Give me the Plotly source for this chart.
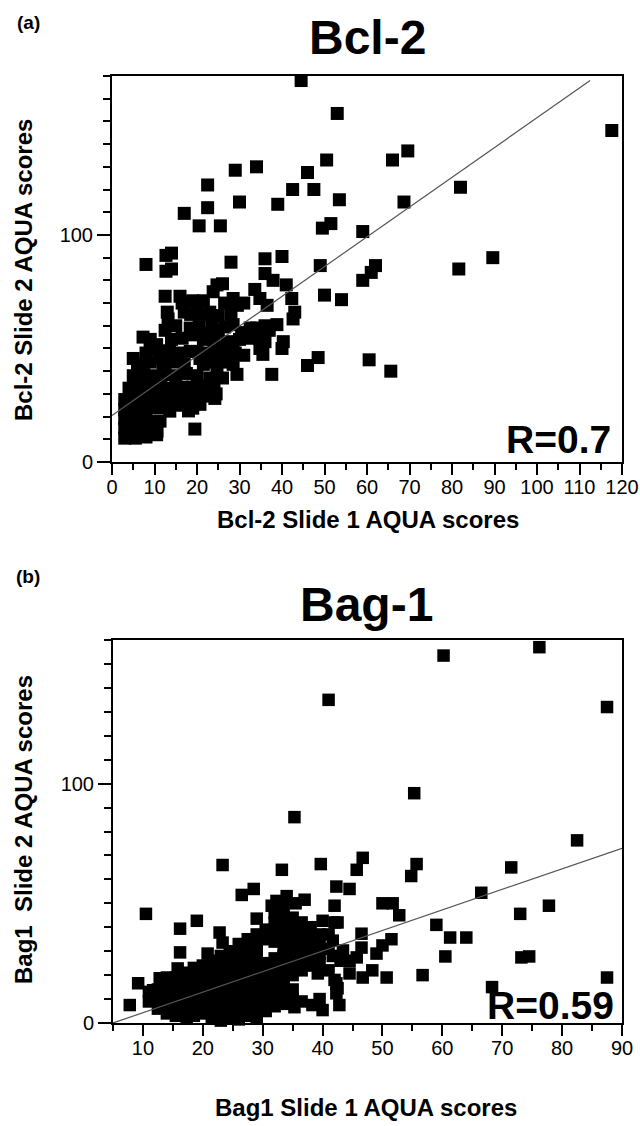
import plotly.graph_objects as go

# ---------------- Data ----------------
# Panel (a) Bcl-2 : (slide 1 score, slide 2 score)
bcl2_upper = [(44.5,168),(53,153.5),(50.5,133),(29,128.5),(34,130),(22.5,122),(46,127.5),
              (42.5,120),(47.5,120),(17,109.5),(22.5,112),(30,114.5),(39,113.5),(20.5,104),
              (25.5,104),(53.5,115.5),(49.5,103),(51.5,105),(59,101.5),(117.6,146),(66,133),
              (69.6,137),(82,121),(68.7,114.5)]
bcl2_right = [(59,80),(62,86.5),(61,83.5),(81.6,85),(89.6,90),(60.5,45),(65.6,40),(50,73.5),
              (54,71.5),(46,42.5),(48.5,46),(37.6,38.6),(19.5,14.5)]
bcl2_mid = [(8,87),(12.7,91),(14,92),(12.7,84),(14,85),(28,88),(36,89.5),(40,90.5),(49,86.5),
            (36,83),(37.9,80),(41,78),(33.6,76),(34.8,72),(36.5,69),(42.3,72),(43,66),(42.6,63),
            (12.5,73),(16,73),(24.7,78),(26,78.5),(23.8,75),(28.5,72),(20,70),(17,66),(23,66),
            (13,66),(13.2,63),(12.5,58),(18.4,59),(16.5,54.5),(7.3,55),(22.6,56.6),(25,58),
            (28.5,60.5),(32.5,59),(34,59),(34.8,54.5),(38.8,60.5),(40.3,53),(40,50),(35.5,47.4),
            (29.4,38.6),(24.7,40.8),(28.5,43),(26,50),(29,48),(20.7,45.6),(20,48.7),(18.4,48.7),
            (24.2,28),(22.4,32.5),(20,32.5),(20.7,25.4),(19,23.7),(16,25.4),(13.6,22.4),
            (11.3,18),(10.6,13.6),(5,45.6),(6,41),(7.3,35.5),(9,50),(10.5,51.7),(11.3,45.6),
            (24.7,45.6),(27,44),(28.5,50),(32.5,54.5),(34.8,50)]
bcl2_core = [(3,10.5),(5.5,10.5),(8,11),(10.5,12),(3,15),(6,15),(9,14.5),
             (3,19),(5.5,18.5),(8,19),(10.5,18),
             (3,23),(5.5,23.5),(8,23),(10.5,24),(13,24),(16,25),(18,22.5),
             (3,27.5),(5.5,28),(8,27.5),(10.5,28),(13,28),(15.5,28.5),(18,28),(20.5,28),(22.5,29),(24.5,30),
             (4,32.5),(6.5,33),(9,32.5),(11.5,33),(14,32.5),(16.5,33),(19,33),(21.5,33.5),(24,34),
             (5,38),(7.5,38.5),(10,38),(12.5,38.5),(15,38),(17.5,39),(20,38),(23,37),(26,37),
             (6.5,43),(9,44),(12,43.5),(14.5,44),(17,43),(21.5,43),(24,44),(26.5,45),
             (8,48),(11,48.5),(13.5,49),(16,48),(22.5,48),(24,50),(27.5,47),(31,47),
             (9,54),(14,54),(19,56),(21.5,54),(24,54),(27,53),(30,54),(36,53),(37,58),
             (15,60),(20.5,59.5),(23.5,61),(26.5,59.5),(30.5,57),(36,60),
             (16.5,70),(19,71),(21.5,71),(26.5,70),(29.5,69),(18.5,65),(21,65),(25,64.5),(28,65),(31,70)]
bcl2_fit_x = [0, 112.5]
bcl2_fit_y = [20.5, 168]

# Panel (b) Bag-1 : (slide 1 score, slide 2 score)
bag1_upper = [(41,135),(35.3,86),(60.2,153.5),(76.2,157),(87.5,132),(55.3,96),(82.5,76.3),
              (71.5,65),(66.5,54.4),(73,45.6),(77.8,49),(87.5,19),(68.3,15),(73.2,27.4),
              (74.5,27.8),(59,41),(61.3,35.7),(64,35.7),(60.5,27.8),(56.7,20)]
bag1_mid = [(46.7,69),(45.7,64),(55.7,66.4),(54.8,61.4),(42.3,57),(44.5,56),(42,49),(50,50),
            (51.7,50),(52.8,45),(42,42),(46.5,37.3),(51.5,35),(50,32.4),(49,29),(48.3,22),
            (50.7,19),(46.7,19),(44.5,20.7),(42.8,7.5),(42,18),(42.5,14.5),(46.5,31.5),
            (45.7,27.4),(44.5,26),(41.7,34.4),(41.7,28),(43,26),(43.4,30.3),(23.3,66),(33.2,64),
            (39.7,66.4),(10.5,45.6),(16.2,39.4),(19,42.7),(26.5,53.5),(28.5,56),(40,42.7),
            (42.5,42),(29,43.6),(32.3,51),(34,53),(37,51.5),(22.8,37.8),(23.3,33.6),(16.2,29.5),
            (9.2,16.6),(7.8,7.5),(35.3,6.6),(38.3,7.5),(40,5.4),(39.2,20.7),(42.3,16.6),
            (42.3,12.4),(17.3,2.5),(15.8,22.8),(12.8,18.7),(11.7,13.7),(20.8,29),(31.5,49),
            (35.5,50)]
bag1_core = [(11,9),(11,13),(12.5,6),(12.5,10),(12.5,14),
             (14,4),(14,8),(14,12),(14,16),(14,19),
             (15.5,3),(15.5,7),(15.5,11),(15.5,15),(15.5,19),
             (17,5),(17,9),(17,13),(17,17),(17,21),
             (18.5,3),(18.5,7),(18.5,11),(18.5,15),(18.5,19),(18.5,23),
             (20,4),(20,8),(20,12),(20,16),(20,20),(20,24),
             (21.5,2),(21.5,6),(21.5,10),(21.5,14),(21.5,18),(21.5,22),(21.5,26),
             (23,1),(23,5),(23,9),(23,13),(23,17),(23,21),(23,25),(23,28),
             (24.5,2),(24.5,6),(24.5,10),(24.5,14),(24.5,18),(24.5,22),(24.5,26),(24.5,30),
             (26,1.5),(26,5.5),(26,9.5),(26,13.5),(26,17.5),(26,21.5),(26,25.5),(26,29.5),(26,33),
             (27.5,3),(27.5,7),(27.5,11),(27.5,15),(27.5,19),(27.5,23),(27.5,27),(27.5,31),(27.5,35),
             (29,2),(29,6),(29,10),(29,14),(29,18),(29,22),(29,26),(29,30),(29,34),(29,37),
             (30.5,5),(30.5,9),(30.5,13),(30.5,17),(30.5,21),(30.5,25),(30.5,35),(30.5,39),
             (32,7),(32,11),(32,15),(32,19),(32,23),(32,27),(32,34),(32,38),(32,42),(32,46),
             (33.5,8),(33.5,12),(33.5,16),(33.5,20),(33.5,24),(33.5,28),(33.5,32),(33.5,36),
             (33.5,40),(33.5,44),(33.5,48),
             (35,10),(35,14),(35,20),(35,24),(35,28),(35,32),(35,36),(35,40),(35,44),
             (36.5,9),(36.5,22),(36.5,26),(36.5,30),(36.5,34),(36.5,38),(36.5,42),
             (38,24),(38,28),(38,32),(38,36),(38,40),
             (39.5,10),(39.5,25),(39.5,29),(39.5,33),(39.5,37),
             (41,22),(41,31),(41,37)]
bag1_fit_x = [5, 90]
bag1_fit_y = [0, 73]

# ---------------- Layout helpers ----------------
W, H = 640, 1126
def px(x):
    return x / W
def py(y):
    return 1 - y / H

FONT = "Liberation Sans, Arial, sans-serif"

def split(points):
    return [p[0] for p in points], [p[1] for p in points]

fig = go.Figure()

ax, ay = split(bcl2_upper + bcl2_right + bcl2_mid + bcl2_core)
fig.add_trace(go.Scatter(x=ax, y=ay, mode="markers", xaxis="x", yaxis="y",
                         marker=dict(symbol="square", size=13, color="black", line=dict(width=0)),
                         cliponaxis=False, hoverinfo="x+y"))
fig.add_trace(go.Scatter(x=bcl2_fit_x, y=bcl2_fit_y, mode="lines", xaxis="x", yaxis="y",
                         line=dict(color="#555555", width=1.2), cliponaxis=False))

bx, by = split(bag1_upper + bag1_mid + bag1_core)
fig.add_trace(go.Scatter(x=bx, y=by, mode="markers", xaxis="x2", yaxis="y2",
                         marker=dict(symbol="square", size=12.5, color="black", line=dict(width=0)),
                         cliponaxis=False, hoverinfo="x+y"))
fig.add_trace(go.Scatter(x=bag1_fit_x, y=bag1_fit_y, mode="lines", xaxis="x2", yaxis="y2",
                         line=dict(color="#555555", width=1.2), cliponaxis=False))

tickfont = dict(family=FONT, size=20, color="black")
common = dict(showline=True, linecolor="black", linewidth=2, mirror=True, showgrid=False,
              zeroline=False, ticks="outside", tickcolor="black", tickwidth=2,
              tickfont=tickfont, automargin=False, fixedrange=True)

fig.update_layout(
    width=W, height=H, margin=dict(l=0, r=0, t=0, b=0),
    paper_bgcolor="white", plot_bgcolor="white", showlegend=False,
    xaxis=dict(domain=[px(112), px(622)], range=[0, 120], anchor="y",
               tickmode="linear", tick0=0, dtick=10, ticklen=11, ticklabelstandoff=-5,
               minor=dict(dtick=5, ticklen=6, ticks="outside", tickcolor="black", tickwidth=2),
               **common),
    yaxis=dict(domain=[py(462), py(76)], range=[0, 170], anchor="x",
               tickmode="array", tickvals=[0, 100], ticklen=13,
               minor=dict(tickmode="linear", tick0=0, dtick=10, ticklen=7, ticks="outside",
                          tickcolor="black", tickwidth=2),
               **common),
    xaxis2=dict(domain=[px(113), px(622)], range=[5, 90], anchor="y2",
                tickmode="linear", tick0=0, dtick=10, ticklen=11, ticklabelstandoff=-5,
                minor=dict(dtick=5, ticklen=6, ticks="outside", tickcolor="black", tickwidth=2),
                **common),
    yaxis2=dict(domain=[py(1023), py(640)], range=[0, 160], anchor="x2",
                tickmode="array", tickvals=[0, 100], ticklen=13,
                minor=dict(tickmode="linear", tick0=0, dtick=10, ticklen=7, ticks="outside",
                           tickcolor="black", tickwidth=2),
                **common),
)

def note(text, x, y, size, bold=True, angle=0, xanchor="center", yanchor="middle"):
    t = f"<b>{text}</b>" if bold else text
    fig.add_annotation(text=t, x=px(x), y=py(y), xref="paper", yref="paper",
                       showarrow=False, textangle=angle, xanchor=xanchor, yanchor=yanchor,
                       font=dict(family=FONT, size=size, color="black"))

note("(a)", 28, 22, 19)
note("Bcl-2", 367, 38, 48)
note("Bcl-2 Slide 1 AQUA scores", 368, 519, 24)
note("Bcl-2 Slide 2 AQUA scores", 23, 270, 24, angle=-90)
note("R=0.7", 613, 439, 39, xanchor="right")

note("(b)", 28, 576, 19)
note("Bag-1", 366, 604, 48)
note("Bag1 Slide 1 AQUA scores", 366, 1107, 24)
note("Bag1  Slide 2 AQUA scores", 23, 830, 24, angle=-90)
note("R=0.59", 616, 1005, 39, xanchor="right")

fig.write_html("out.html", config={"displayModeBar": False},
               post_script="document.body.style.margin='0px';document.body.style.overflow='hidden';")
